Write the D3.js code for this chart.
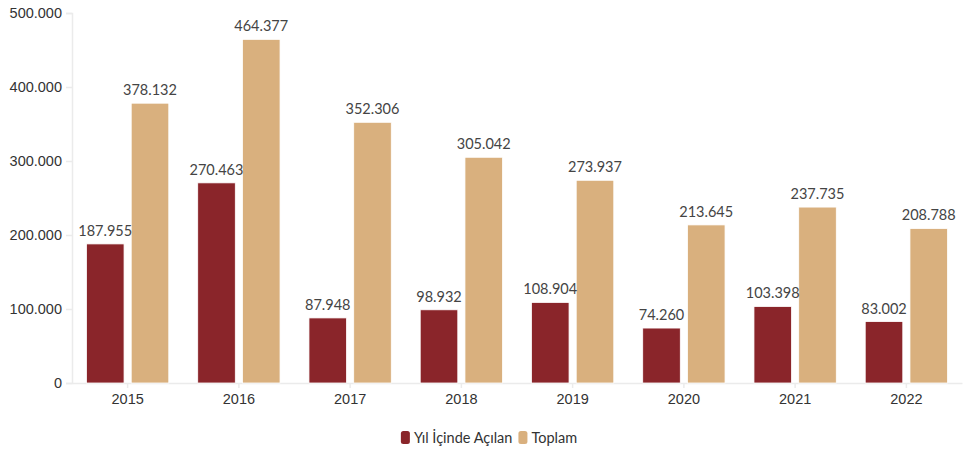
<!DOCTYPE html>
<html>
<head>
<meta charset="utf-8">
<script src="https://cdn.jsdelivr.net/npm/d3@7"></script>
<style>
  body { margin: 0; background: #fff; }
  svg { display: block; font-family: "Source Sans Pro", Lato, "Noto Sans", sans-serif; }
</style>
</head>
<body>
<svg id="chart" width="963" height="455"></svg>
<script>
const years = ["2015", "2016", "2017", "2018", "2019", "2020", "2021", "2022"];
const opened = [187955, 270463, 87948, 98932, 108904, 74260, 103398, 83002];
const total = [378132, 464377, 352306, 305042, 273937, 213645, 237735, 208788];
const seriesNames = ["Yıl İçinde Açılan", "Toplam"];
const yTicks = [0, 100000, 200000, 300000, 400000, 500000];
const colors = ["#8a252a", "#d9b07e"];

const svg = d3.select("#chart");
const W = 963, H = 455;
const m = { left: 72, right: 1, top: 13, bottom: 72 };
const fontSize = "14.5px";

const fmt = v => d3.format(",")(v).replace(/,/g, ".");

const x = d3.scaleBand().domain(years).range([m.left, W - m.right]).paddingInner(0.26).paddingOuter(0.13);
const xOuter = d3.scaleBand().domain(years).range([m.left, W - m.right]);
const xs = d3.scaleBand().domain([0, 1]).range([0, x.bandwidth()]).paddingInner(0.16);
const y = d3.scaleLinear().domain([0, 500000]).range([H - m.bottom, m.top]);

// y axis
const gy = svg.append("g").attr("transform", `translate(${m.left},0)`)
  .call(d3.axisLeft(y).tickValues(yTicks).tickFormat(fmt).tickSize(6).tickPadding(4));
gy.select(".domain").attr("stroke", "#ebebeb").attr("stroke-width", 1.5);
gy.selectAll(".tick line").attr("stroke", "#ebebeb").attr("stroke-width", 1.5);
gy.selectAll(".tick text").attr("fill", "#333").style("font-size", fontSize);

// x axis
const gx = svg.append("g").attr("transform", `translate(0,${H - m.bottom})`)
  .call(d3.axisBottom(xOuter).tickSize(5).tickPadding(6).tickSizeOuter(0));
gx.select(".domain").attr("stroke", "#ebebeb").attr("stroke-width", 1.5);
gx.selectAll(".tick line").attr("stroke", "#ebebeb").attr("stroke-width", 1.5);
gx.selectAll(".tick text").attr("fill", "#333").style("font-size", fontSize);

const series = [opened, total];
const barLayer = svg.append("g");
const labelLayer = svg.append("g");
series.forEach((vals, si) => {
  barLayer.append("g").selectAll("rect").data(years).join("rect")
    .attr("x", d => x(d) + xs(si))
    .attr("width", xs.bandwidth())
    .attr("y", (d, i) => y(vals[i]))
    .attr("height", (d, i) => y(0) - y(vals[i]))
    .attr("fill", colors[si])
    .attr("stroke", "#fff").attr("stroke-width", 0.8);
  labelLayer.append("g").selectAll("text").data(years).join("text")
    .attr("x", d => x(d) + xs(si) + xs.bandwidth() / 2)
    .attr("y", (d, i) => y(vals[i]) - 8)
    .attr("text-anchor", "middle")
    .attr("fill", "#444")
    .style("font-size", fontSize)
    .text((d, i) => fmt(vals[i]));
});

// legend
const legend = svg.append("g").attr("transform", "translate(0,438)");
const items = legend.selectAll("g").data(seriesNames).join("g");
items.append("rect").attr("width", 9).attr("height", 13).attr("rx", 2.5).attr("y", -7)
  .attr("fill", (d, i) => colors[i]);
items.append("text").attr("x", 13).attr("dy", "0.35em")
  .attr("fill", "#333").style("font-size", fontSize).text(d => d);
const widths = [];
items.each(function () { widths.push(this.getBBox().width); });
const gap = 6;
const totalW = d3.sum(widths) + gap * (widths.length - 1);
let off = 489 - totalW / 2;
items.attr("transform", (d, i) => {
  const t = `translate(${off},0)`;
  off += widths[i] + gap;
  return t;
});
</script>
</body>
</html>
